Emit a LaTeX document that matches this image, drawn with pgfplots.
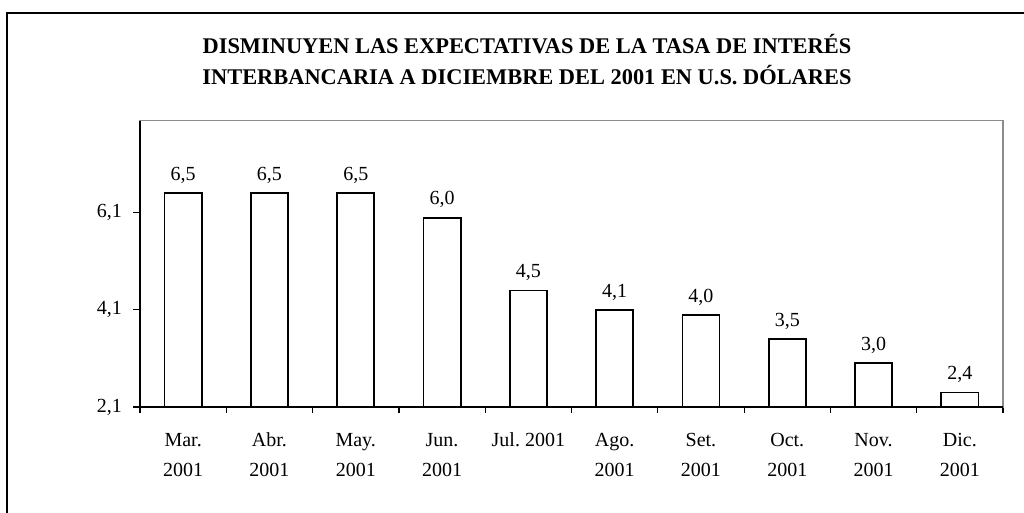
\documentclass[border=0pt]{standalone}
\usepackage{fontspec}
\setmainfont{Liberation Serif}
\usepackage{pgfplots}
\pgfplotsset{compat=1.18}
\frenchspacing
\begin{document}
\begin{tikzpicture}
\begin{axis}[
  at={(70pt,53pt)}, anchor=south west,
  scale only axis,
  width=431.5pt, height=143.25pt,
  xmin=-0.5, xmax=9.5,
  ymin=2.1, ymax=8.0,
  ytick={2.1,4.1,6.1},
  xtick={0,...,9},
  xticklabels={{Mar.\\2001},{Abr.\\2001},{May.\\2001},{Jun.\\2001},{Jul.\ 2001},{Ago.\\2001},{Set.\\2001},{Oct.\\2001},{Nov.\\2001},{Dic.\\2001}},
  minor xtick={-0.5,0.5,...,9.5},
  major x tick style={draw=none},
  xtick pos=bottom, ytick pos=left,
  tick align=outside,
  major tick length=3.5pt,
  minor tick length=3pt,
  tick style={black, line width=0.6pt},
  axis line style={draw=gray!90, line width=0.9pt},
  yticklabel style={/pgf/number format/use comma, /pgf/number format/fixed, /pgf/number format/fixed zerofill, /pgf/number format/precision=1, xshift=-2pt},
  /pgf/number format/assume math mode=true,
  ticklabel style={font=\fontsize{10}{15}\selectfont},
  xticklabel style={align=center, yshift=-6pt},
  clip=false,
]
\addplot[ybar, bar width=0.43, draw=black, fill=white, line width=0.9pt,
  nodes near coords,
  every node near coord/.append style={black, font=\fontsize{10}{12}\selectfont, yshift=1pt,
    /pgf/number format/.cd, use comma, fixed, fixed zerofill, precision=1, assume math mode=true}]
  coordinates {(0,6.5) (1,6.5) (2,6.5) (3,6.0) (4,4.5) (5,4.1) (6,4.0) (7,3.5) (8,3.0) (9,2.4)};
\draw[black, line width=0.9pt] (rel axis cs:0,1) -- (rel axis cs:0,0) -- (rel axis cs:1,0);
\end{axis}
\node[font=\bfseries\fontsize{11.2}{13}\selectfont] at (263.5pt,234.5pt) {DISMINUYEN LAS EXPECTATIVAS DE LA TASA DE INTERÉS};
\node[font=\bfseries\fontsize{11.2}{13}\selectfont] at (263.5pt,219pt) {INTERBANCARIA A DICIEMBRE DEL 2001 EN U.S. DÓLARES};
\draw[black, line width=0.8pt] (3.5pt,-10pt) -- (3.5pt,250pt) -- (530pt,250pt);
\pgfresetboundingbox
\path[use as bounding box] (0,0) rectangle (512pt,256.5pt);
\end{tikzpicture}
\end{document}
